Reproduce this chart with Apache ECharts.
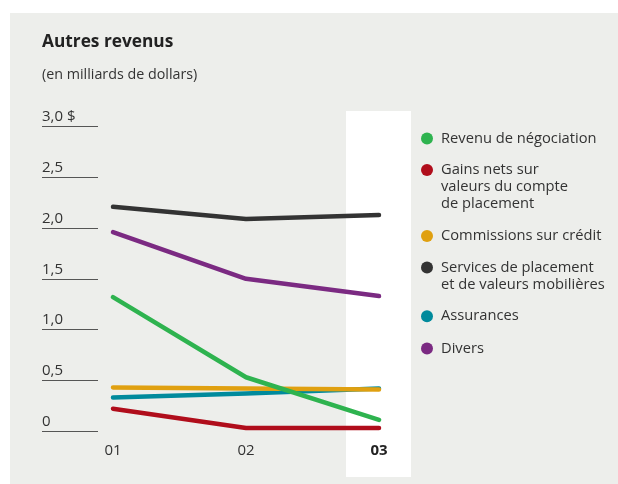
<!DOCTYPE html>
<html>
<head>
<meta charset="utf-8">
<script src="https://cdn.jsdelivr.net/npm/echarts@6/dist/echarts.min.js"></script>
<style>
  html, body { margin: 0; padding: 0; background: #ffffff; }
  #chart { width: 618px; height: 484px; }
</style>
</head>
<body>
<div id="chart"></div>
<script>
// années
var categories = ['01', '02', '03'];
// graduations de l'axe
var yTicks = [0, 0.5, 1, 1.5, 2, 2.5, 3];

// données (milliards de dollars)
var revenuNegociation = [1.32, 0.53, 0.11];
var gainsNets = [0.22, 0.03, 0.03];
var commissionsCredit = [0.43, 0.42, 0.41];
var servicesPlacement = [2.21, 2.09, 2.13];
var assurances = [0.33, 0.37, 0.42];
var divers = [1.96, 1.50, 1.33];

var FONT = '"Open Sans", sans-serif';
var TEXT = '#333333';

var seriesDefs = [
  { name: 'Revenu de négociation', data: revenuNegociation, color: '#2eb34f', z: 4, lines: 1, top: 130 },
  { name: 'Gains nets sur\nvaleurs du compte\nde placement', data: gainsNets, color: '#b00d1b', z: 2, lines: 3, top: 127.5 },
  { name: 'Commissions sur crédit', data: commissionsCredit, color: '#e0a010', z: 3, lines: 1, top: 227.5 },
  { name: 'Services de placement\net de valeurs mobilières', data: servicesPlacement, color: '#333333', z: 2, lines: 2, top: 242 },
  { name: 'Assurances', data: assurances, color: '#008a9c', z: 2, lines: 1, top: 307.8 },
  { name: 'Divers', data: divers, color: '#7b2a82', z: 2, lines: 1, top: 340 }
];

var myChart = echarts.init(document.getElementById('chart'));

var gridTop = 126.7, gridBottom = 484 - 431;

var option = {
  backgroundColor: '#ffffff',
  animation: false,
  title: {
    text: 'Autres revenus',
    subtext: '(en milliards de dollars)',
    left: 42,
    top: 32,
    padding: 0,
    itemGap: 14,
    textStyle: { fontFamily: FONT, fontSize: 17.3, fontWeight: 'bold', color: '#222222', lineHeight: 20 },
    subtextStyle: { fontFamily: FONT, fontSize: 14.3, color: TEXT, lineHeight: 18 }
  },
  grid: [
    { left: 113, right: 618 - 379, top: gridTop, bottom: gridBottom },
    { left: 42, right: 618 - 98, top: gridTop, bottom: gridBottom }
  ],
  xAxis: [
    {
      type: 'category', gridIndex: 0, data: categories, boundaryGap: false,
      axisLine: { show: false }, axisTick: { show: false }, splitLine: { show: false },
      axisLabel: {
        margin: 12, fontFamily: FONT, fontSize: 15, color: TEXT,
        formatter: function (v) { return v === '03' ? '{b|' + v + '}' : v; },
        rich: { b: { fontFamily: FONT, fontSize: 15, fontWeight: 'bold', color: '#222222' } }
      }
    },
    { type: 'value', gridIndex: 1, show: false, min: 0, max: 1 }
  ],
  yAxis: [
    { type: 'value', gridIndex: 0, min: 0, max: 3, interval: 0.5, show: false },
    {
      type: 'value', gridIndex: 1, min: 0, max: 3, interval: 0.5,
      axisLine: { show: false }, axisTick: { show: false },
      splitLine: { show: true, lineStyle: { color: '#555555', width: 1 } },
      axisLabel: {
        inside: true, margin: 0, verticalAlign: 'bottom', padding: [0, 0, 2, 0],
        fontFamily: FONT, fontSize: 15, color: TEXT,
        formatter: function (v) {
          var s = v === 0 ? '0' : v.toFixed(1).replace('.', ',');
          return v === 3 ? s + ' $' : s;
        }
      }
    }
  ],
  legend: seriesDefs.map(function (d) {
    var lead = new Array(d.lines).join('\n');
    return {
      data: [d.name],
      left: 421,
      top: d.top,
      padding: 0,
      icon: 'circle',
      itemWidth: 12,
      itemHeight: 12,
      itemGap: 0,
      selectedMode: false,
      formatter: function (name) { return lead + name; },
      textStyle: { fontFamily: FONT, fontSize: 14.7, color: TEXT, lineHeight: 17, padding: [0, 0, 0, 3] }
    };
  }),
  series: seriesDefs.map(function (d) {
    return {
      name: d.name,
      type: 'line',
      xAxisIndex: 0,
      yAxisIndex: 0,
      data: d.data,
      z: d.z,
      symbol: 'none',
      color: d.color,
      lineStyle: { width: 4.5, color: d.color, cap: 'round', join: 'round' }
    };
  })
};

myChart.setOption(option);

// fond gris et bande blanche autour de 03
var p = myChart.convertToPixel({ xAxisIndex: 0, yAxisIndex: 0 }, ['03', 0]);
myChart.setOption({
  graphic: [
    { type: 'rect', z: -10, silent: true, shape: { x: 10, y: 13, width: 608, height: 471 }, style: { fill: '#edeeeb' } },
    { type: 'rect', z: -9, silent: true, shape: { x: p[0] - 33, y: 111, width: 65, height: 366 }, style: { fill: '#ffffff' } }
  ]
});
</script>
</body>
</html>
